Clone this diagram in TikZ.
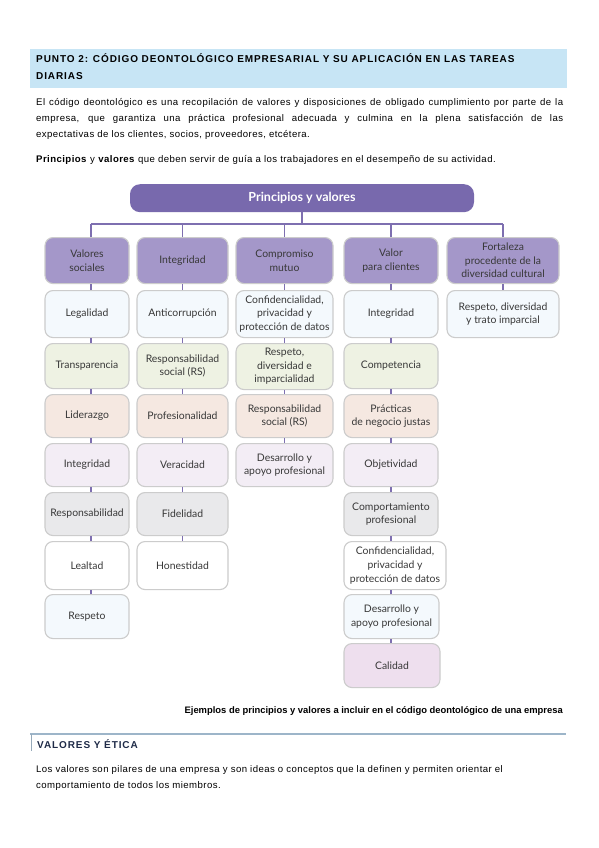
\documentclass[tikz,border=0pt]{standalone}
\usepackage{fontspec}
\setmainfont{Liberation Sans}
\newfontfamily\diag{Lato}
\definecolor{band}{HTML}{C7E5F5}
\definecolor{topc}{HTML}{7869AD}
\definecolor{headc}{HTML}{A497C9}
\definecolor{linec}{HTML}{7E6FB0}
\definecolor{bord}{HTML}{CCCCCC}
\definecolor{txt}{HTML}{383838}
\definecolor{rA}{HTML}{F4F9FD}
\definecolor{rB}{HTML}{EEF2E3}
\definecolor{rC}{HTML}{F5E8E1}
\definecolor{rD}{HTML}{F3EDF5}
\definecolor{rE}{HTML}{E9E9EB}
\definecolor{rF}{HTML}{FFFFFF}
\definecolor{rH}{HTML}{EEDFEE}
\definecolor{navy}{HTML}{1F2B48}
\definecolor{secline}{HTML}{9DB5C9}
\tikzset{
  box/.style={draw=bord, line width=1.1pt, rounded corners=8pt, align=center,
    text=txt, font=\diag\fontsize{10.4}{13.6}\selectfont, inner sep=1pt},
  conn/.style={draw=linec, line width=1.2pt},
  body/.style={anchor=base west, inner sep=0pt, font=\fontsize{9.6}{16}\selectfont\addfontfeature{LetterSpace=4.5}, text=black},
  headline/.style={anchor=base west, inner sep=0pt, font=\bfseries\fontsize{10}{12}\selectfont\addfontfeature{LetterSpace=9}},
}
\newcommand{\bx}[7]{% name, fill, xl, xr, yt, yb, text
  \node[box, fill=#2, minimum width=#4pt-#3pt, minimum height=#6pt-#5pt, anchor=north] (#1) at ({(#3+#4)/2},#5) {#7};}
\begin{document}
\begin{tikzpicture}[x=1pt,y=-1pt]
\useasboundingbox (0,0) rectangle (599,848);
\fill[white] (0,0) rectangle (599,848);
% header band
\fill[band] (30,49) rectangle (567,88);
\node[headline] (h1t) at (36,63) {PUNTO 2: CÓDIGO DEONTOLÓGICO EMPRESARIAL Y SU APLICACIÓN EN LAS TAREAS};
\node[headline] (h2t) at (36,79.5) {DIARIAS};
% paragraph
\node[body] (p1) at (36,105.5) {\makebox[527pt][s]{El código deontológico es una recopilación de valores y disposiciones de obligado cumplimiento por parte de la}};
\node[body] (p2) at (36,121.5) {\makebox[527pt][s]{empresa, que garantiza una práctica profesional adecuada y culmina en la plena satisfacción de las}};
\node[body] (p3) at (36,137.5) {expectativas de los clientes, socios, proveedores, etcétera.};
\node[body] (p4) at (36,162.5) {\textbf{Principios} y \textbf{valores} que deben servir de guía a los trabajadores en el desempeño de su actividad.};
% top box
\node[fill=topc, rounded corners=10pt, minimum width=344pt, minimum height=28pt, text=white, font=\diag\bfseries\fontsize{12.5}{14}\selectfont, anchor=north] (top) at (302,184) {Principios y valores};
\coordinate (bus) at (0,224);
% headers
\bx{c1h}{headc}{45}{129}{237}{283}{Valores\\sociales}
\bx{c2h}{headc}{137}{228}{237}{283}{Integridad}
\bx{c3h}{headc}{236}{333}{237}{283}{Compromiso\\mutuo}
\bx{c4h}{headc}{344}{438}{237}{283}{Valor\\para clientes}
\bx{c5h}{headc}{447}{559}{237}{283}{Fortaleza\\procedente de la\\diversidad cultural}
% column 1
\bx{c1a}{rA}{45}{129}{290}{337}{Legalidad}
\bx{c1b}{rB}{45}{129}{343}{388}{Transparencia}
\bx{c1c}{rC}{45}{129}{394}{437}{Liderazgo}
\bx{c1d}{rD}{45}{129}{443}{486}{Integridad}
\bx{c1e}{rE}{45}{129}{492}{535}{Responsabilidad}
\bx{c1f}{rF}{45}{129}{541}{589}{Lealtad}
\bx{c1g}{rA}{45}{129}{594}{638}{Respeto}
% column 2
\bx{c2a}{rA}{137}{228}{290}{337}{Anticorrupción}
\bx{c2b}{rB}{137}{228}{343}{388}{Responsabilidad\\social (RS)}
\bx{c2c}{rC}{137}{228}{394}{437}{Profesionalidad}
\bx{c2d}{rD}{137}{228}{443}{486}{Veracidad}
\bx{c2e}{rE}{137}{228}{492}{535}{Fidelidad}
\bx{c2f}{rF}{137}{228}{541}{589}{Honestidad}
% column 3
\bx{c3a}{rA}{236}{333}{290}{337}{Confidencialidad,\\privacidad y\\protección de datos}
\bx{c3b}{rB}{236}{333}{343}{389}{Respeto,\\diversidad e\\imparcialidad}
\bx{c3c}{rC}{236}{333}{394}{437}{Responsabilidad\\social (RS)}
\bx{c3d}{rD}{236}{333}{443}{486}{Desarrollo y\\apoyo profesional}
% column 4
\bx{c4a}{rA}{344}{438}{290}{337}{Integridad}
\bx{c4b}{rB}{344}{438}{343}{388}{Competencia}
\bx{c4c}{rC}{344}{438}{394}{437}{Prácticas\\de negocio justas}
\bx{c4d}{rD}{344}{438}{443}{486}{Objetividad}
\bx{c4e}{rE}{344}{438}{492}{535}{Comportamiento\\profesional}
\bx{c4f}{rF}{344}{446}{541}{589}{Confidencialidad,\\privacidad y\\protección de datos}
\bx{c4g}{rA}{344}{439}{594}{638}{Desarrollo y\\apoyo profesional}
\bx{c4k}{rH}{344}{440}{643}{687}{Calidad}
% column 5
\bx{c5a}{rA}{447}{559}{290}{337}{Respeto, diversidad\\y trato imparcial}
% tree connectors
\draw[conn] (top.south) -- (top.south |- bus);
\draw[conn] ([xshift=4pt]c1h.north |- bus) -- (c5h.north |- bus);
\draw[conn] ([xshift=4pt]c1h.north) -- ([xshift=4pt]c1h.north |- bus);
\foreach \c in {c2h,c3h,c4h,c5h}{\draw[conn] (\c.north) -- (\c.north |- bus);}
\foreach \a/\b in {c1h/c1a,c1a/c1b,c1b/c1c,c1c/c1d,c1d/c1e,c1e/c1f,c1f/c1g}{\draw[conn] ([xshift=4pt]\a.south) -- ([xshift=4pt]\b.north);}
\foreach \a/\b in {c2h/c2a,c2a/c2b,c2b/c2c,c2c/c2d,c2d/c2e,c2e/c2f,
  c3h/c3a,c3a/c3b,c3b/c3c,c3c/c3d,c5h/c5a}{\draw[conn] (\a.south) -- (\b.north);}
\foreach \a/\b in {c4h/c4a,c4a/c4b,c4b/c4c,c4c/c4d,c4d/c4e}{\draw[conn] (\a.south) -- (\b.north);}
\draw[conn] (c4e.south) -- (c4e.south |- c4f.north);
\draw[conn] (c4e.south |- c4f.south) -- (c4e.south |- c4g.north);
\draw[conn] (c4e.south |- c4g.south) -- (c4e.south |- c4k.north);
% caption
\node[anchor=base east, inner sep=0pt, font=\bfseries\fontsize{9.4}{11}\selectfont] (cap) at (563,713) {Ejemplos de principios y valores a incluir en el código deontológico de una empresa};
% section
\draw[secline, line width=1.5pt] (30,734) -- (566,734);
\draw[secline!80!gray, line width=1.2pt] (31.5,734) -- (31.5,751);
\node[headline, text=navy] (sec) at (37,748.5) {VALORES Y ÉTICA};
\node[body] (q1) at (36,772.5) {Los valores son pilares de una empresa y son ideas o conceptos que la definen y permiten orientar el};
\node[body] (q2) at (36,788.5) {comportamiento de todos los miembros.};
\end{tikzpicture}
\end{document}
